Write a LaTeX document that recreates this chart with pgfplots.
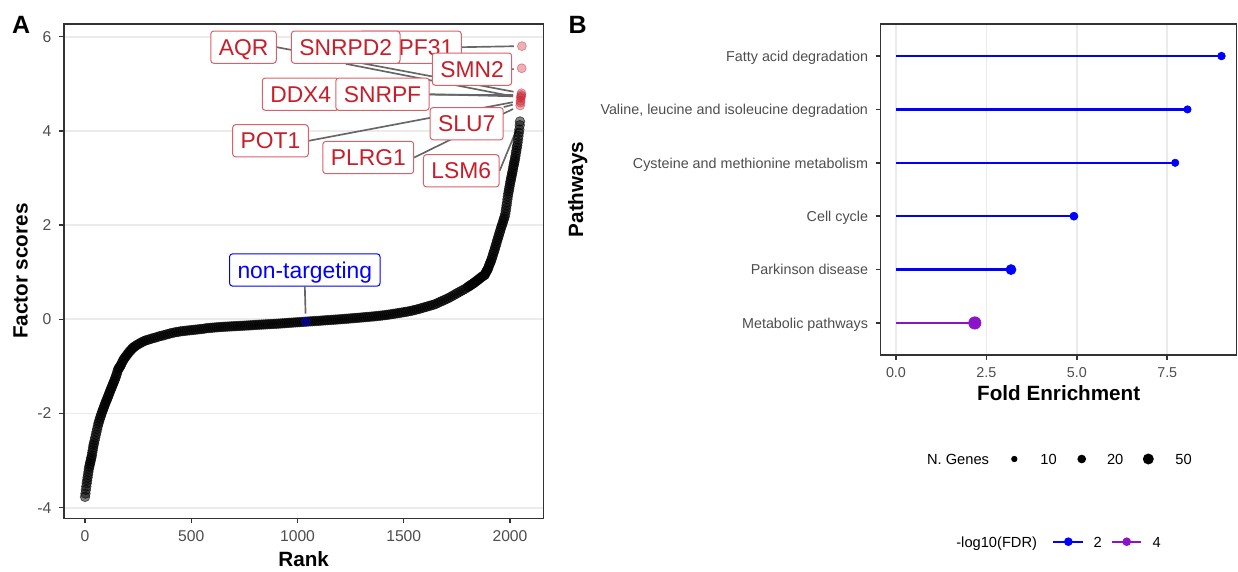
\documentclass[border=0pt]{standalone}
\usepackage{fontspec}
\setmainfont{Liberation Sans}
\usepackage{pgfplots}
\pgfplotsset{compat=1.18}
\definecolor{gray20}{HTML}{333333}
\definecolor{gray30}{HTML}{4D4D4D}
\definecolor{gray40}{HTML}{666666}
\definecolor{gray92}{HTML}{EBEBEB}
\definecolor{lblred}{RGB}{200,30,42}
\definecolor{fdrblue}{RGB}{0,0,255}
\definecolor{fdrpurple}{RGB}{140,20,200}
\newcommand{\tickfontA}{\fontsize{9.4}{9.4}\selectfont}
\newcommand{\tickfontB}{\fontsize{8.6}{8.6}\selectfont}
\newcommand{\titlefont}{\bfseries\fontsize{12.4}{12.4}\selectfont}
\newcommand{\panelfont}{\bfseries\fontsize{15}{15}\selectfont}
\newcommand{\lblfont}{\fontsize{13.7}{13.7}\selectfont}
\newcommand{\legfont}{\fontsize{8.8}{8.8}\selectfont}
\tikzset{
  lblA/.style={draw=lblred!70!white, fill=white, text=lblred, rounded corners=1.8pt,
    line width=0.6pt, font=\lblfont, text height=9.75pt, text depth=0pt,
    inner xsep=4.8pt, inner ysep=4.8pt, anchor=center},
  lblB/.style={lblA, draw=fdrblue, text=fdrblue},
  seg/.style={gray40, line width=1pt, shorten >=4.8pt},
}
\begin{document}
\begin{tikzpicture}
\useasboundingbox (0,0) rectangle (742.8pt,342.6pt);
% ---------------- Panel A ----------------
\begin{axis}[
  at={(38.4pt,31.62pt)}, anchor=south west,
  width=287.6pt, height=296.6pt, scale only axis,
  xmin=-99, xmax=2157, ymin=-4.225, ymax=6.27,
  xtick={0,500,1000,1500,2000}, xticklabels={0,500,1000,1500,2000},
  ytick={-4,-2,0,2,4,6}, yticklabels={-4,-2,0,2,4,6},
  ymajorgrids, grid style={gray92, line width=1.07pt},
  axis line style={gray20, line width=0.9pt},
  tick style={gray20, line width=0.9pt},
  tick align=outside, major tick length=3pt, tick pos=left,
  ticklabel style={font=\tickfontA, text=gray30, inner sep=0pt},
  xticklabel style={anchor=north, yshift=-4.4pt},
  yticklabel style={anchor=east, xshift=-4.4pt},
  clip=false,
]
\addplot[only marks, mark=*, mark size=2.9pt,
  mark options={fill=black, draw=black, fill opacity=0.5, draw opacity=0.6, line width=0.4pt}]
coordinates {
(0,-3.77)(2,-3.70)(4,-3.62)(6,-3.55)(8,-3.48)(10,-3.42)(12,-3.36)(14,-3.30)(16,-3.24)(18,-3.18)
(20,-3.13)(22,-3.09)(24,-3.05)(26,-3.01)(28,-2.97)(30,-2.93)(32,-2.89)(34,-2.83)(36,-2.78)(38,-2.72)
(40,-2.67)(42,-2.63)(45,-2.57)(48,-2.51)(51,-2.45)(54,-2.39)(57,-2.33)(60,-2.27)(63,-2.21)(66,-2.17)
(69,-2.12)(72,-2.08)(75,-2.04)(78,-2.00)(81,-1.96)(84,-1.92)(87,-1.89)(90,-1.85)(93,-1.81)(96,-1.78)
(99,-1.74)(102,-1.71)(105,-1.68)(108,-1.64)(111,-1.61)(114,-1.57)(117,-1.54)(120,-1.50)(123,-1.47)(126,-1.44)
(129,-1.40)(132,-1.37)(135,-1.34)(138,-1.30)(141,-1.27)(144,-1.23)(147,-1.19)(150,-1.15)(153,-1.10)(156,-1.06)
(159,-1.04)(162,-1.02)(165,-1.00)(169,-0.97)(173,-0.93)(177,-0.89)(181,-0.86)(185,-0.83)(190,-0.80)(195,-0.77)
(200,-0.74)(205,-0.71)(210,-0.68)(215,-0.66)(220,-0.63)(225,-0.61)(230,-0.59)(236,-0.57)(243,-0.55)(250,-0.53)
(258,-0.51)(266,-0.49)(274,-0.47)(282,-0.455)(290,-0.44)(300,-0.43)(310,-0.415)(320,-0.40)(330,-0.39)(340,-0.375)
(350,-0.36)(360,-0.35)(370,-0.34)(380,-0.325)(390,-0.315)(400,-0.30)(410,-0.29)(420,-0.28)(430,-0.27)(440,-0.265)
(450,-0.255)(460,-0.25)(470,-0.245)(480,-0.24)(490,-0.235)(500,-0.23)(510,-0.225)(520,-0.22)(530,-0.215)(540,-0.21)
(550,-0.205)(560,-0.20)(570,-0.19)(580,-0.186)(590,-0.182)(600,-0.178)(610,-0.174)(620,-0.17)(630,-0.167)(640,-0.163)
(650,-0.16)(660,-0.157)(670,-0.155)(680,-0.152)(690,-0.15)(700,-0.147)(710,-0.145)(720,-0.142)(730,-0.14)(740,-0.137)
(750,-0.135)(760,-0.132)(770,-0.13)(780,-0.127)(790,-0.124)(800,-0.12)(810,-0.118)(820,-0.115)(830,-0.113)(840,-0.11)
(850,-0.108)(860,-0.105)(870,-0.103)(880,-0.10)(890,-0.098)(900,-0.095)(910,-0.092)(920,-0.089)(930,-0.086)(940,-0.083)
(950,-0.079)(960,-0.075)(970,-0.072)(980,-0.069)(990,-0.066)(1000,-0.063)(1010,-0.06)(1020,-0.057)(1030,-0.053)(1040,-0.05)
(1050,-0.047)(1060,-0.044)(1070,-0.041)(1080,-0.038)(1090,-0.035)(1100,-0.032)(1110,-0.029)(1120,-0.025)(1130,-0.022)(1140,-0.019)
(1150,-0.016)(1160,-0.013)(1170,-0.01)(1180,-0.006)(1190,-0.003)(1200,0.0)(1210,0.004)(1220,0.008)(1230,0.011)(1240,0.015)
(1250,0.019)(1260,0.022)(1270,0.026)(1280,0.03)(1290,0.034)(1300,0.038)(1310,0.042)(1320,0.046)(1330,0.05)(1340,0.054)
(1350,0.058)(1360,0.062)(1370,0.067)(1380,0.072)(1390,0.077)(1400,0.082)(1410,0.088)(1420,0.094)(1430,0.10)(1440,0.107)
(1450,0.114)(1460,0.121)(1470,0.128)(1480,0.135)(1490,0.143)(1500,0.151)(1510,0.158)(1520,0.166)(1530,0.175)(1540,0.185)
(1550,0.196)(1560,0.207)(1570,0.219)(1580,0.232)(1590,0.245)(1600,0.258)(1610,0.271)(1620,0.284)(1630,0.297)(1640,0.31)
(1650,0.325)(1660,0.347)(1670,0.368)(1680,0.388)(1690,0.408)(1700,0.428)(1710,0.45)(1720,0.474)(1730,0.50)(1740,0.525)
(1750,0.55)(1760,0.575)(1770,0.60)(1780,0.625)(1790,0.65)(1800,0.68)(1805,0.695)(1810,0.71)(1815,0.725)(1820,0.74)
(1825,0.755)(1830,0.77)(1835,0.787)(1840,0.805)(1845,0.822)(1850,0.84)(1855,0.857)(1860,0.875)(1865,0.893)(1870,0.91)
(1875,0.925)(1880,0.94)(1882,0.95)(1885,0.98)(1888,1.01)(1891,1.03)(1894,1.05)(1897,1.08)(1900,1.12)(1903,1.16)
(1906,1.19)(1909,1.22)(1912,1.26)(1915,1.30)(1918,1.34)(1921,1.39)(1924,1.43)(1927,1.47)(1930,1.52)(1933,1.56)
(1936,1.61)(1939,1.66)(1942,1.70)(1945,1.75)(1948,1.79)(1951,1.84)(1954,1.88)(1957,1.93)(1960,1.97)(1963,2.01)
(1966,2.05)(1969,2.10)(1972,2.14)(1975,2.18)(1978,2.24)(1980,2.30)(1982,2.36)(1984,2.42)(1986,2.48)(1988,2.55)
(1990,2.61)(1992,2.67)(1994,2.72)(1996,2.77)(1998,2.82)(2000,2.87)(2002,2.92)(2004,2.96)(2006,3.01)(2008,3.05)
(2010,3.10)(2012,3.14)(2014,3.19)(2016,3.24)(2018,3.28)(2020,3.33)(2022,3.37)(2024,3.42)(2026,3.47)(2028,3.53)
(2030,3.58)(2032,3.64)(2034,3.69)(2036,3.75)(2038,3.82)(2040,3.89)(2042,3.96)(2044,4.03)(2046,4.12)(2047,4.20)
};
% top hits (red)
\addplot[only marks, mark=*, mark size=2.7pt,
  mark options={fill=lblred, draw=lblred, fill opacity=0.35, draw opacity=0.45, line width=0.4pt}]
coordinates {(2048,4.54)(2049,4.60)(2050,4.64)(2051,4.70)(2052,4.73)(2053,4.76)(2054,4.80)(2055,5.33)(2056,5.80)};
% non-targeting
\addplot[only marks, mark=*, mark size=2.7pt,
  mark options={fill=fdrblue, draw=fdrblue, fill opacity=0.45, draw opacity=0.5, line width=0.4pt}]
coordinates {(1039,-0.05)};
% invisible label placeholders
\path (axis cs:1530,5.777) node[lblA, opacity=0] (prpf) {PRPF31};
\path (axis cs:745.9,5.777) node[lblA, opacity=0] (aqr) {AQR};
\path (axis cs:1226.8,5.777) node[lblA, opacity=0] (snrpd) {SNRPD2};
\path (axis cs:1821.2,5.31) node[lblA, opacity=0] (smn) {SMN2};
\path (axis cs:1015.1,4.779) node[lblA, opacity=0] (ddx) {DDX4};
\path (axis cs:1400,4.779) node[lblA, opacity=0] (snrpf) {SNRPF};
\path (axis cs:1796.2,4.153) node[lblA, opacity=0] (slu) {SLU7};
\path (axis cs:872.9,3.79) node[lblA, opacity=0] (pot) {POT1};
\path (axis cs:1333.2,3.435) node[lblA, opacity=0] (plrg) {PLRG1};
\path (axis cs:1770.8,3.153) node[lblA, opacity=0] (lsm) {LSM6};
\path (axis cs:1034.4,1.047) node[lblB, opacity=0] (nt) {non-targeting};
% segments
\draw[seg] (prpf.east) -- (axis cs:2056,5.80);
\draw[seg] (aqr.east) -- (axis cs:2054,4.80);
\draw[seg] (snrpd.south) -- (axis cs:2051,4.70);
\draw[seg] (smn.east) -- (axis cs:2055,5.33);
\draw[seg] (ddx.east) -- (axis cs:2053,4.76);
\draw[seg] (snrpf.east) -- (axis cs:2052,4.73);
\draw[seg] (slu.north east) -- (axis cs:2049,4.60);
\draw[seg] (pot.east) -- (axis cs:2050,4.64);
\draw[seg] (plrg.east) -- (axis cs:2048,4.54);
\draw[seg] (lsm.east) -- (axis cs:2047,4.20);
\draw[seg] (nt.south) -- (axis cs:1039,-0.05);
% labels
\node[lblA] at (prpf) {PRPF31};
\node[lblA] at (aqr) {AQR};
\node[lblA] at (snrpd) {SNRPD2};
\node[lblA] at (smn) {SMN2};
\node[lblA] at (ddx) {DDX4};
\node[lblA] at (snrpf) {SNRPF};
\node[lblA] at (slu) {SLU7};
\node[lblA] at (pot) {POT1};
\node[lblA] at (plrg) {PLRG1};
\node[lblA] at (lsm) {LSM6};
\node[lblB] at (nt) {non-targeting};
\end{axis}
% ---------------- Panel B ----------------
\begin{axis}[
  at={(528.4pt,129.6pt)}, anchor=south west,
  width=213.6pt, height=198.6pt, scale only axis,
  xmin=-0.423, xmax=9.42, ymin=0.4, ymax=6.6,
  xtick={0,2.5,5,7.5}, xticklabels={0.0,2.5,5.0,7.5},
  ytick={1,2,3,4,5,6},
  yticklabels={Metabolic pathways,Parkinson disease,Cell cycle,Cysteine and methionine metabolism,{Valine, leucine and isoleucine degradation},Fatty acid degradation},
  xmajorgrids, grid style={gray92, line width=1.07pt},
  axis line style={gray20, line width=0.9pt},
  tick style={gray20, line width=0.9pt},
  tick align=outside, major tick length=3pt, tick pos=left,
  ticklabel style={font=\tickfontB, text=gray30, inner sep=0pt, text depth=0pt},
  xticklabel style={anchor=north, yshift=-4.2pt},
  yticklabel style={anchor=east, xshift=-4.4pt},
  clip=false,
]
% stems (from 0 to the fold enrichment)
\addplot[color=fdrblue, line width=1.35pt, no marks] coordinates {(0,6) (9.0,6)};
\addplot[color=fdrblue, line width=1.35pt, no marks] coordinates {(0,5) (8.06,5)};
\addplot[color=fdrblue, line width=1.35pt, no marks] coordinates {(0,4) (7.72,4)};
\addplot[color=fdrblue, line width=1.35pt, no marks] coordinates {(0,3) (4.92,3)};
\addplot[color=fdrblue, line width=1.35pt, no marks] coordinates {(0,2) (3.18,2)};
\addplot[color=fdrpurple, line width=1.35pt, no marks] coordinates {(0,1) (2.18,1)};
% heads (size = number of genes)
\addplot[color=fdrblue, only marks, mark=*, mark size=2.3pt, mark options={draw=none, fill=fdrblue}] coordinates {(9.0,6)};
\addplot[color=fdrblue, only marks, mark=*, mark size=2.2pt, mark options={draw=none, fill=fdrblue}] coordinates {(8.06,5)};
\addplot[color=fdrblue, only marks, mark=*, mark size=2.2pt, mark options={draw=none, fill=fdrblue}] coordinates {(7.72,4)};
\addplot[color=fdrblue, only marks, mark=*, mark size=2.4pt, mark options={draw=none, fill=fdrblue}] coordinates {(4.92,3)};
\addplot[color=fdrblue, only marks, mark=*, mark size=3.0pt, mark options={draw=none, fill=fdrblue}] coordinates {(3.18,2)};
\addplot[color=fdrpurple, only marks, mark=*, mark size=3.7pt, mark options={draw=none, fill=fdrpurple}] coordinates {(2.18,1)};
\end{axis}
% ---------------- titles and legends (pixel grid) ----------------
\begin{scope}[x=0.6pt, y=-0.6pt, shift={(0pt,342.6pt)}]
\node[anchor=base west, inner sep=0pt, font=\panelfont] at (11.7,33.3) {A};
\node[anchor=base west, inner sep=0pt, font=\panelfont] at (568.3,33.3) {B};
\node[anchor=base, inner sep=0pt, font=\titlefont] at (303.7,566.5) {Rank};
\node[anchor=base, inner sep=0pt, rotate=90, font=\titlefont] at (27.5,271.2) {Factor scores};
\node[anchor=base, inner sep=0pt, font=\titlefont] at (1058.7,400) {Fold Enrichment};
\node[anchor=base, inner sep=0pt, rotate=90, font=\titlefont] at (583.2,189.5) {Pathways};
% legend 1
\node[anchor=base west, inner sep=0pt, font=\legfont] at (926.7,464.7) {N. Genes};
\fill[black] (1014.3,459) circle[radius=1.9pt];
\fill[black] (1081.7,459) circle[radius=2.6pt];
\fill[black] (1148.3,459) circle[radius=3.3pt];
\node[anchor=base west, inner sep=0pt, font=\legfont] at (1040,464.7) {10};
\node[anchor=base west, inner sep=0pt, font=\legfont] at (1106.7,464.7) {20};
\node[anchor=base west, inner sep=0pt, font=\legfont] at (1175,464.7) {50};
% legend 2
\node[anchor=base west, inner sep=0pt, font=\legfont] at (956,547) {-log10(FDR)};
\draw[fdrblue, line width=1.35pt] (1053,541.7) -- (1082.7,541.7);
\fill[fdrblue] (1068.3,541.7) circle[radius=2.6pt];
\node[anchor=base west, inner sep=0pt, font=\legfont] at (1093.3,547) {2};
\draw[fdrpurple, line width=1.35pt] (1112,541.7) -- (1140.7,541.7);
\fill[fdrpurple] (1126.7,541.7) circle[radius=2.6pt];
\node[anchor=base west, inner sep=0pt, font=\legfont] at (1152.3,547) {4};
\end{scope}
\end{tikzpicture}
\end{document}
